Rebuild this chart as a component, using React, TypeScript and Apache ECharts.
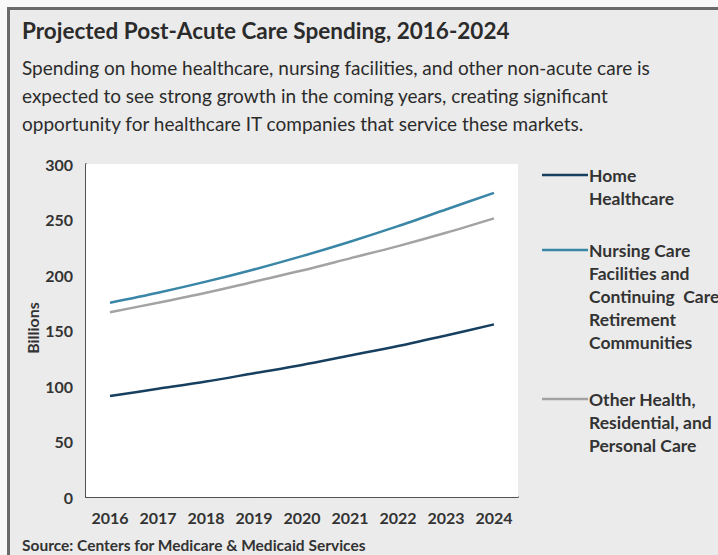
import React, { useEffect, useRef } from "react";
import * as echarts from "echarts";

const years = ["2016", "2017", "2018", "2019", "2020", "2021", "2022", "2023", "2024"];
const homeHealthcare = [91, 97.5, 104, 111.5, 119, 127.5, 136, 145.5, 155.5];
const nursingCare = [175, 184, 194, 205, 217, 230, 244, 259, 274];
const otherHealth = [166.5, 175, 184, 194, 204, 215, 226, 238, 251];
const seriesNames = [
  "Home\nHealthcare",
  "Nursing Care\nFacilities and\nContinuing  Care\nRetirement\nCommunities",
  "Other Health,\nResidential, and\nPersonal Care",
];
const colors = ["#173f5f", "#3a86a6", "#a3a3a3"];
const titleText = "Projected Post-Acute Care Spending, 2016-2024";
const subtitleText =
  "Spending on home healthcare, nursing facilities, and other non-acute care is\nexpected to see strong growth in the coming years, creating significant\nopportunity for healthcare IT companies that service these markets.";
const sourceText = "Source: Centers for Medicare & Medicaid Services";

const FONT = "Lato";

export default function App() {
  const ref = useRef<HTMLDivElement>(null);
  useEffect(() => {
    const chart = echarts.init(ref.current!, null, { renderer: "svg" });
    const data = [homeHealthcare, nursingCare, otherHealth];
    const legendY = [175, 250, 399];
    chart.setOption({
      animation: false,
      backgroundColor: "#f8f8f8",
      textStyle: { fontFamily: FONT },
      grid: {
        left: 86,
        top: 164,
        width: 432,
        height: 333,
        show: true,
        backgroundColor: "#ffffff",
        borderWidth: 0,
        z: 1,
      },
      xAxis: {
        type: "category",
        data: years,
        boundaryGap: true,
        axisLine: { show: true, lineStyle: { color: "#222", width: 1.5 } },
        axisTick: { show: false },
        axisLabel: {
          color: "#333",
          fontSize: 16,
          fontWeight: "bold",
          fontFamily: FONT,
          margin: 12,
          interval: 0,
          hideOverlap: false,
        },
      },
      yAxis: {
        type: "value",
        min: 0,
        max: 300,
        interval: 50,
        axisLine: { show: true, lineStyle: { color: "#222", width: 1.5 } },
        axisTick: { show: false },
        splitLine: { show: false },
        axisLabel: { color: "#333", fontSize: 16, fontWeight: "bold", fontFamily: FONT, margin: 13 },
      },
      series: data.map((d, i) => ({
        type: "line",
        name: seriesNames[i],
        data: d,
        smooth: 0.3,
        showSymbol: false,
        z: 3,
        lineStyle: { color: colors[i], width: 2.5 },
        itemStyle: { color: colors[i] },
      })),
      graphic: [
        {
          type: "rect",
          z: -10,
          silent: true,
          shape: { x: 8.5, y: 8.5, width: 720, height: 560 },
          style: { fill: "#ebebeb", stroke: "#6a6a6a", lineWidth: 3 },
        },
        {
          type: "text",
          x: 22,
          y: 30,
          style: {
            text: titleText,
            font: `bold 22.5px ${FONT}`,
            fill: "#2b2b2b",
            verticalAlign: "middle",
          },
        },
        {
          type: "text",
          x: 22,
          y: 53,
          style: {
            text: subtitleText,
            font: `19px ${FONT}`,
            lineHeight: 28,
            fill: "#2b2b2b",
            verticalAlign: "top",
          },
        },
        {
          type: "text",
          x: 32,
          y: 328,
          rotation: Math.PI / 2,
          style: {
            text: "Billions",
            font: `bold 16px ${FONT}`,
            fill: "#333",
            align: "center",
            verticalAlign: "middle",
          },
        },
        {
          type: "text",
          x: 22,
          y: 545,
          style: {
            text: sourceText,
            font: `bold 15.5px ${FONT}`,
            fill: "#333",
            verticalAlign: "middle",
          },
        },
        ...seriesNames.flatMap((name, i) => [
          {
            type: "line",
            shape: { x1: 542, y1: legendY[i], x2: 588, y2: legendY[i] },
            style: { stroke: colors[i], lineWidth: 2.5 },
          },
          {
            type: "text",
            x: 589,
            y: legendY[i] - 11.5,
            style: {
              text: name,
              font: `bold 17.5px ${FONT}`,
              lineHeight: 23,
              fill: "#333",
              verticalAlign: "top",
            },
          },
        ]),
      ],
    });
    return () => chart.dispose();
  }, []);
  return (
    <div
      ref={ref}
      style={{ position: "absolute", left: 0, top: 0, width: 718, height: 555 }}
    />
  );
}
